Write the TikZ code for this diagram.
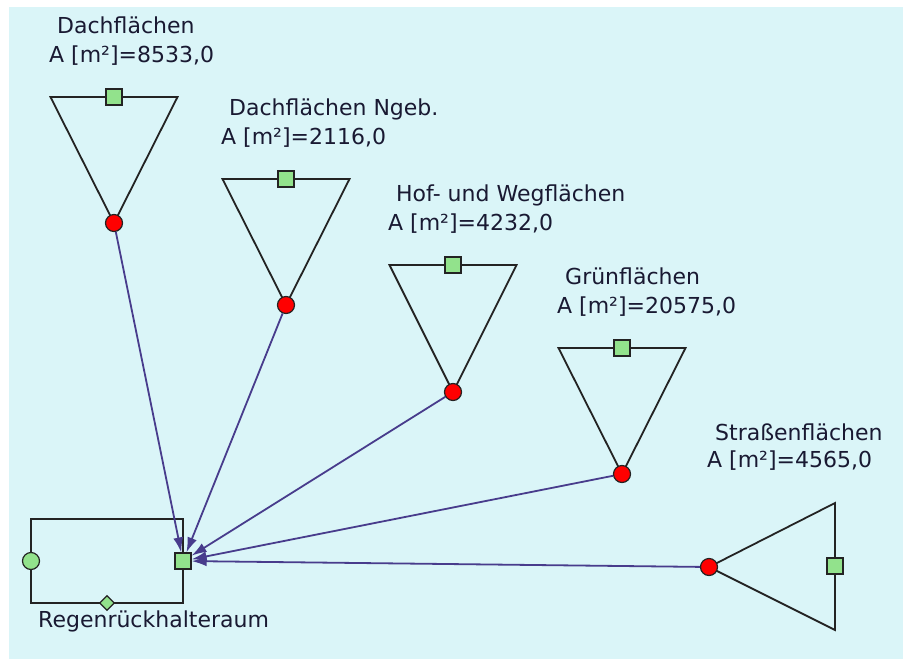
\documentclass[tikz,border=0pt]{standalone}
\usepackage{fontspec}
\setmainfont{DejaVu Sans}
\usetikzlibrary{arrows.meta,shapes.geometric}
\definecolor{bgc}{RGB}{218,245,248}
\definecolor{portgreen}{RGB}{146,226,140}
\definecolor{conncol}{RGB}{72,60,140}
\definecolor{linecol}{RGB}{35,35,35}
\definecolor{labcol}{RGB}{25,25,50}
\begin{document}
\begin{tikzpicture}[x=1pt,y=-1pt,
  tri/.style={draw=linecol, line width=1.8pt, line join=miter},
  outport/.style={circle, draw=linecol, fill=red, minimum size=17pt, inner sep=0pt, line width=1.2pt},
  inport/.style={rectangle, draw=linecol, fill=portgreen, minimum size=16pt, inner sep=0pt, line width=1.2pt},
  circport/.style={circle, draw=linecol, fill=portgreen, minimum size=17pt, inner sep=0pt, line width=1.2pt},
  diaport/.style={diamond, draw=linecol, fill=portgreen, minimum size=15pt, inner sep=0pt, line width=1.2pt},
  lbl/.style={anchor=base west, inner sep=0pt, font=\fontsize{22}{26}\selectfont, text=labcol},
  conn/.style={draw=conncol, line width=1.8pt, -{Latex[length=15pt,width=10pt]}}]
\useasboundingbox (0,0) rectangle (903,659);
\fill[white] (0,0) rectangle (903,659);
\fill[bgc] (9,7) rectangle (903,659);

% Regenrueckhalteraum
\draw[tri] (31,519) rectangle (183,603);
\node[circport] (rrl) at (31,561) {};
\node[diaport] (rrd) at (107,603) {};
\node[inport] (rr) at (183,561) {};
\node[lbl] (rrlab) at (38,627) {Regenrückhalteraum};

% Triangle 1
\draw[tri] (50.5,97) -- (177.5,97) -- (114,223) -- cycle;
\node[inport] (i1) at (114,97) {};
\node[outport] (o1) at (114,223) {};
\node[lbl] (l1a) at (57,33) {Dachflächen};
\node[lbl] (l1b) at (49,62) {A [m²]=8533,0};

% Triangle 2
\draw[tri] (222.5,179) -- (349.5,179) -- (286,305) -- cycle;
\node[inport] (i2) at (286,179) {};
\node[outport] (o2) at (286,305) {};
\node[lbl] (l2a) at (229,115) {Dachflächen Ngeb.};
\node[lbl] (l2b) at (221,144) {A [m²]=2116,0};

% Triangle 3
\draw[tri] (389.5,265) -- (516.5,265) -- (453,392) -- cycle;
\node[inport] (i3) at (453,265) {};
\node[outport] (o3) at (453,392) {};
\node[lbl] (l3a) at (396,201) {Hof- und Wegflächen};
\node[lbl] (l3b) at (388,230) {A [m²]=4232,0};

% Triangle 4
\draw[tri] (558.5,348) -- (685.5,348) -- (622,474) -- cycle;
\node[inport] (i4) at (622,348) {};
\node[outport] (o4) at (622,474) {};
\node[lbl] (l4a) at (565,284) {Grünflächen};
\node[lbl] (l4b) at (557,313) {A [m²]=20575,0};

% Triangle 5
\draw[tri] (709,567) -- (835,503) -- (835,630) -- cycle;
\node[inport] (i5) at (835,566) {};
\node[outport] (o5) at (709,567) {};
\node[lbl] (l5a) at (715,440) {Straßenflächen};
\node[lbl] (l5b) at (707,467) {A [m²]=4565,0};

% Connectors
\draw[conn] (o1) -- (rr);
\draw[conn] (o2) -- (rr);
\draw[conn] (o3) -- (rr);
\draw[conn] (o4) -- (rr);
\draw[conn] (o5) -- (rr);
\end{tikzpicture}
\end{document}
